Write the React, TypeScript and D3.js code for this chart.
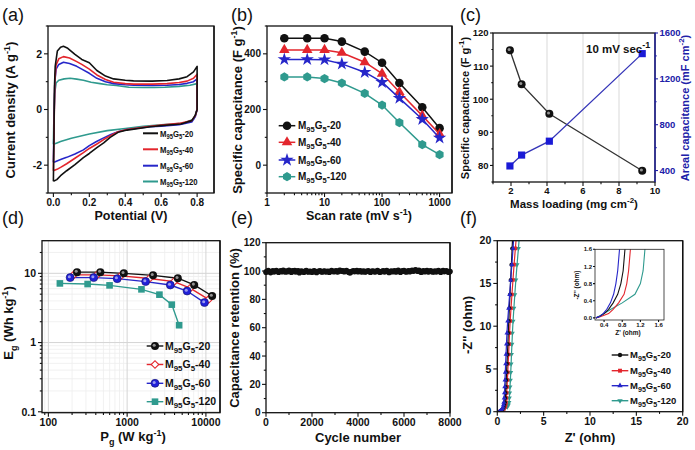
import React from 'react';
import * as d3 from 'd3';

const FONT = "'Liberation Sans', Arial, Helvetica, sans-serif";
const BLACK = '#111111';
const RED = '#e3262d';
const BLUE = '#2626c9';
const TEAL = '#2f9a8e';
const NAVY = '#2020a8';

// ---------------- (a) CV curves: [potential V, current A/g] ----------------
const cv20: [number, number][] = [[0,-2.58],[0.003,-1.0],[0.006,0.8],[0.01,1.55],[0.022,2.1],[0.04,2.24],[0.056,2.27],[0.08,2.2],[0.12,1.98],[0.158,1.8],[0.2,1.68],[0.242,1.4],[0.29,1.2],[0.335,1.1],[0.4,1.05],[0.446,1.03],[0.55,1.02],[0.633,1.04],[0.7,1.1],[0.744,1.18],[0.78,1.35],[0.8,1.55],[0.8,0.0],[0.79,-0.2],[0.77,-0.4],[0.71,-0.52],[0.6,-0.58],[0.54,-0.62],[0.41,-0.74],[0.36,-0.82],[0.316,-1.0],[0.28,-1.2],[0.242,-1.37],[0.2,-1.58],[0.167,-1.73],[0.12,-1.98],[0.074,-2.2],[0.04,-2.38],[0.019,-2.52],[0,-2.58]];
const cv40: [number, number][] = [[0,-2.2],[0.004,-0.5],[0.008,1.0],[0.015,1.6],[0.03,1.82],[0.056,1.9],[0.09,1.85],[0.13,1.72],[0.158,1.62],[0.2,1.45],[0.242,1.24],[0.29,1.08],[0.335,0.98],[0.4,0.93],[0.446,0.91],[0.55,0.91],[0.633,0.93],[0.7,0.97],[0.744,1.02],[0.78,1.12],[0.8,1.27],[0.8,0.0],[0.79,-0.22],[0.77,-0.4],[0.7,-0.5],[0.6,-0.56],[0.54,-0.6],[0.41,-0.72],[0.36,-0.8],[0.32,-0.93],[0.28,-1.08],[0.24,-1.25],[0.2,-1.4],[0.167,-1.55],[0.12,-1.75],[0.074,-1.95],[0.04,-2.08],[0.02,-2.15],[0,-2.2]];
const cv60: [number, number][] = [[0,-1.9],[0.004,-0.3],[0.008,1.0],[0.015,1.45],[0.03,1.62],[0.056,1.7],[0.09,1.65],[0.13,1.55],[0.158,1.45],[0.2,1.3],[0.242,1.12],[0.29,1.0],[0.335,0.93],[0.4,0.89],[0.446,0.87],[0.55,0.86],[0.633,0.87],[0.7,0.9],[0.744,0.94],[0.78,1.0],[0.8,1.1],[0.8,0.0],[0.79,-0.25],[0.77,-0.45],[0.7,-0.55],[0.6,-0.6],[0.54,-0.62],[0.41,-0.72],[0.36,-0.8],[0.32,-0.9],[0.28,-1.02],[0.24,-1.15],[0.2,-1.3],[0.167,-1.45],[0.12,-1.6],[0.074,-1.72],[0.04,-1.8],[0.02,-1.85],[0,-1.9]];
const cv120: [number, number][] = [[0,-1.25],[0.003,-0.2],[0.007,0.57],[0.015,0.95],[0.03,1.05],[0.06,1.1],[0.093,1.12],[0.13,1.09],[0.167,1.05],[0.21,0.98],[0.26,0.93],[0.3,0.89],[0.35,0.86],[0.42,0.8],[0.5,0.79],[0.56,0.79],[0.62,0.8],[0.7,0.83],[0.76,0.87],[0.8,0.93],[0.8,0.0],[0.79,-0.2],[0.78,-0.35],[0.72,-0.5],[0.6,-0.55],[0.5,-0.6],[0.4,-0.68],[0.3,-0.76],[0.2,-0.88],[0.1,-1.03],[0.04,-1.15],[0.02,-1.2],[0,-1.25]];

const seriesSuffix = ['20', '40', '60', '120'];
const seriesColors = [BLACK, RED, BLUE, TEAL];

// ---------------- (b) specific capacitance vs scan rate ----------------
const scanRates = [2, 5, 10, 20, 50, 100, 200, 500, 1000];
const capB20 = [456, 456, 456, 444, 408, 368, 295, 208, 133];
const capB40 = [414, 414, 414, 404, 370, 329, 263, 178, 112];
const capB60 = [380, 380, 379, 364, 334, 298, 241, 165, 98];
const capB120 = [317, 317, 311, 295, 258, 216, 153, 74, 38];

// ---------------- (c) mass loading ----------------
const massLoading = [1.94, 2.59, 4.13, 9.29];
const specificCap = [114.8, 104.5, 95.6, 78.4];
const arealCap = [440, 535, 656, 1420];

// ---------------- (d) Ragone ----------------
const d20P = [231, 457, 908, 2133, 4400, 7100, 12000];
const d20E = [10.4, 10.4, 10.0, 9.35, 8.5, 6.8, 4.7];
const d40P = [210, 415, 830, 1920, 3950, 6300, 10800];
const d40E = [9.5, 9.5, 9.2, 8.4, 7.6, 6.1, 4.2];
const d60P = [189, 376, 748, 1718, 3530, 5770, 9600];
const d60E = [8.67, 8.67, 8.38, 7.59, 6.78, 5.55, 3.78];
const d120P = [140, 315, 598, 1520, 2570, 3690, 4570];
const d120E = [7.15, 7.0, 6.7, 5.87, 4.92, 3.53, 1.78];

// ---------------- (e) cycling retention (every 50 cycles) ----------------
const retention = [99.2, 99.8, 100.3, 99.5, 98.9, 99.6, 100.1, 99.4, 99.9, 100.4, 99.7, 99.1, 99.8, 100.2, 99.5, 100.6, 99.9, 99.3, 100.0, 99.6, 100.5, 99.8, 99.2, 100.1, 99.7, 100.3, 99.4, 99.9, 100.2, 98.8, 99.6, 100.0, 99.5, 99.1, 99.8, 100.4, 99.6, 99.3, 99.9, 99.7, 99.2, 99.8, 100.1, 99.4, 99.0, 99.7, 99.9, 100.2, 99.5, 99.3, 99.8, 100.0, 99.4, 99.7, 99.9, 99.2, 99.6, 100.3, 99.8, 99.5, 99.9, 100.2, 99.4, 99.7, 100.6, 100.3, 99.8, 100.1, 99.5, 99.9, 100.4, 99.7, 99.2, 98.7, 99.4, 99.8, 100.2, 99.6, 99.9, 100.3, 99.5, 99.8, 100.1, 99.4, 99.7, 100.0, 99.3, 99.6, 99.9, 100.2, 99.5, 99.1, 99.8, 100.0, 99.6, 99.4, 99.9, 100.3, 99.7, 99.2, 99.5, 99.8, 100.1, 99.4, 99.9, 100.4, 99.6, 99.0, 99.7, 100.0, 99.5, 99.8, 100.2, 99.3, 99.9, 100.5, 99.6, 99.1, 99.8, 100.1, 100.4, 99.7, 99.3, 99.9, 100.2, 99.5, 100.0, 100.6, 99.8, 100.3, 100.8, 100.4, 99.9, 100.5, 99.6, 99.2, 99.8, 100.1, 99.5, 99.9, 100.3, 99.4, 99.7, 100.2, 99.8, 99.3, 99.6, 100.0, 99.4, 99.9, 100.4, 99.7, 99.1, 99.8, 100.3, 99.6, 99.9, 100.1, 99.5, 99.2, 99.7];
const maxCycle = 8000;

// ---------------- (f) Nyquist ----------------
const zIm = [0, 0.03, 0.1, 0.2, 0.35, 0.55, 0.8, 1.1, 1.6, 2.2, 2.9, 3.7, 4.6, 5.6, 6.7, 7.9, 9.2, 10.6, 12.1, 13.7, 15.4, 17.2, 19.1, 21];
const zRe20 = [0.22, 0.3, 0.4, 0.5, 0.6, 0.7, 0.77, 0.82, 0.86, 0.89, 0.92, 0.96, 1.0, 1.04, 1.09, 1.14, 1.18, 1.24, 1.3, 1.37, 1.44, 1.52, 1.6, 1.68];
const zRe40 = [0.22, 0.33, 0.5, 0.6, 0.72, 0.84, 0.9, 0.94, 0.98, 1.01, 1.05, 1.09, 1.13, 1.17, 1.22, 1.27, 1.32, 1.39, 1.48, 1.58, 1.69, 1.81, 1.95, 2.1];
const zRe60 = [0.22, 0.3, 0.38, 0.46, 0.54, 0.61, 0.66, 0.7, 0.74, 0.77, 0.8, 0.83, 0.86, 0.9, 0.94, 0.99, 1.04, 1.12, 1.22, 1.33, 1.45, 1.57, 1.7, 1.8];
const zRe120 = [0.22, 0.28, 0.4, 0.55, 0.8, 1.08, 1.2, 1.26, 1.3, 1.33, 1.37, 1.41, 1.45, 1.49, 1.53, 1.58, 1.63, 1.7, 1.79, 1.89, 2.0, 2.13, 2.28, 2.42];

// ---------------- helpers ----------------
const symbolHex = {
  draw(ctx: any, size: number) {
    const r = Math.sqrt(size / 2.598);
    for (let i = 0; i < 6; i++) {
      const a = (Math.PI / 3) * i + Math.PI / 6;
      const px = r * Math.cos(a), py = r * Math.sin(a);
      if (i) ctx.lineTo(px, py); else ctx.moveTo(px, py);
    }
    ctx.closePath();
  },
};

function Marker({ kind, x, y, s, fill, stroke = 'none', sw = 1 }: any) {
  if (kind === 'circle') return <circle cx={x} cy={y} r={s} fill={fill} stroke={stroke} strokeWidth={sw} />;
  if (kind === 'ball') return (
    <g>
      <circle cx={x} cy={y} r={s} fill={fill} stroke={stroke} strokeWidth={sw} />
      <circle cx={x - s * 0.2} cy={y - s * 0.2} r={s * 0.38} fill="#ffffff" opacity={0.55} />
    </g>
  );
  let type: any = d3.symbolCircle, area = s * s * 3.2, rot = 0;
  if (kind === 'tri') { type = d3.symbolTriangle; area = s * s * 2.6; }
  if (kind === 'tridown') { type = d3.symbolTriangle; area = s * s * 2.6; rot = 180; }
  if (kind === 'star') { type = d3.symbolStar; area = s * s * 2.4; }
  if (kind === 'hex') { type = symbolHex; area = s * s * 3.0; }
  if (kind === 'square') { type = d3.symbolSquare; area = s * s * 3.2; }
  if (kind === 'diamond') { type = d3.symbolSquare; area = s * s * 2.2; rot = 45; }
  const p = d3.symbol(type, area)() as string;
  return <path d={p} transform={`translate(${x},${y}) rotate(${rot})`} fill={fill} stroke={stroke} strokeWidth={sw} />;
}

function Axis({ orient, scale, pos, major, minor = [], fmt = (v: number) => String(v), size = 10.5, color = '#111', len = 4, off = 2 }: any) {
  const els: any[] = [];
  const mk = (v: number, i: number, isMajor: boolean) => {
    const p = scale(v);
    const l = isMajor ? len : len * 0.55;
    if (orient === 'bottom') {
      els.push(<line key={(isMajor ? 'M' : 'm') + i} x1={p} x2={p} y1={pos} y2={pos + l} stroke={color} strokeWidth={1.1} />);
      if (isMajor) els.push(<text key={'L' + i} x={p} y={pos + len + off + size * 0.75} textAnchor="middle" fontSize={size} fontWeight="bold" fontFamily={FONT} fill={color}>{fmt(v)}</text>);
    } else if (orient === 'left') {
      els.push(<line key={(isMajor ? 'M' : 'm') + i} x1={pos} x2={pos - l} y1={p} y2={p} stroke={color} strokeWidth={1.1} />);
      if (isMajor) els.push(<text key={'L' + i} x={pos - len - off} y={p + size * 0.36} textAnchor="end" fontSize={size} fontWeight="bold" fontFamily={FONT} fill={color}>{fmt(v)}</text>);
    } else {
      els.push(<line key={(isMajor ? 'M' : 'm') + i} x1={pos} x2={pos + l} y1={p} y2={p} stroke={color} strokeWidth={1.1} />);
      if (isMajor) els.push(<text key={'L' + i} x={pos + len + off} y={p + size * 0.36} textAnchor="start" fontSize={size} fontWeight="bold" fontFamily={FONT} fill={color}>{fmt(v)}</text>);
    }
  };
  major.forEach((v: number, i: number) => mk(v, i, true));
  minor.forEach((v: number, i: number) => mk(v, i, false));
  return <g>{els}</g>;
}

function Frame({ x0, x1, y0, y1, right = '#111' }: any) {
  return (
    <g>
      <rect x={x0} y={y0} width={x1 - x0} height={y1 - y0} fill="none" stroke="#111" strokeWidth={1.3} />
      <line x1={x1} x2={x1} y1={y0} y2={y1} stroke={right} strokeWidth={1.3} />
    </g>
  );
}

function Title({ x, y, rotate = 0, size = 13, fill = '#111', children }: any) {
  return (
    <text x={x} y={y} fontSize={size} fontWeight="bold" fontFamily={FONT} fill={fill} textAnchor="middle"
      transform={rotate ? `rotate(${rotate},${x},${y})` : undefined}>{children}</text>
  );
}

function PanelLabel({ x, y, t }: any) {
  return <text x={x} y={y} fontSize={18} fontFamily={FONT} fill="#111">{t}</text>;
}

function MG({ x, y, suffix, size = 9.5, sx = 1 }: any) {
  const s = size * 0.75;
  const d = size * 0.28;
  return (
    <g transform={`translate(${x},${y}) scale(${sx},1)`}>
      <text x={0} y={0} fontSize={size} fontWeight="bold" fontFamily={FONT} fill="#111">
        M<tspan fontSize={s} dy={d}>95</tspan><tspan dy={-d}>G</tspan><tspan fontSize={s} dy={d}>5</tspan><tspan dy={-d}>-{suffix}</tspan>
      </text>
    </g>
  );
}

function Sup({ children, size = 9, up = 5 }: any) {
  return <tspan fontSize={size} baselineShift={`${up}px`}>{children}</tspan>;
}
function Sub({ children, size = 9, down = 4 }: any) {
  return <tspan fontSize={size} baselineShift={`${-down}px`}>{children}</tspan>;
}

const logMinor = (lo: number, hi: number) => {
  const out: number[] = [];
  for (let e = -3; e <= 6; e++) for (let k = 2; k <= 9; k++) { const v = k * Math.pow(10, e); if (v > lo && v < hi) out.push(v); }
  return out;
};

export default function App() {
  // ---- scales ----
  const xA = d3.scaleLinear().domain([-0.03, 0.894]).range([48, 214]);
  const yA = d3.scaleLinear().domain([-3, 3]).range([193, 26]);

  const xB = d3.scaleLog().domain([1, 1644]).range([267, 452]);
  const yB = d3.scaleLinear().domain([-100, 500]).range([193, 26]);

  const xC = d3.scaleLinear().domain([1, 10]).range([493, 655]);
  const yCL = d3.scaleLinear().domain([75, 120]).range([182, 33]);
  const yCR = d3.scaleLinear().domain([300, 1600]).range([182, 33]);

  const xD = d3.scaleLog().domain([83, 15100]).range([42, 220]);
  const yD = d3.scaleLog().domain([0.097, 29.6]).range([412.7, 240.7]);

  const xE = d3.scaleLinear().domain([0, maxCycle]).range([266, 450]);
  const yE = d3.scaleLinear().domain([0, 120]).range([412.7, 242.7]);

  const xF = d3.scaleLinear().domain([0, 20]).range([497.3, 682.7]);
  const yF = d3.scaleLinear().domain([0, 20]).range([411.7, 240.7]);
  const xI = d3.scaleLinear().domain([0.2, 1.72]).range([595, 664]);
  const yI = d3.scaleLinear().domain([-0.05, 1.6]).range([320, 249.3]);

  const lineA = d3.line<[number, number]>().x(d => xA(d[0])).y(d => yA(d[1]));
  const cvs = [cv20, cv40, cv60, cv120];

  const bSeries = [capB20, capB40, capB60, capB120];
  const bKinds = ['circle', 'tri', 'star', 'hex'];
  const lineB = d3.line<number>().x((_, i) => xB(scanRates[i])).y(d => yB(d));

  const dP = [d20P, d40P, d60P, d120P];
  const dE = [d20E, d40E, d60E, d120E];

  const fRe = [zRe20, zRe40, zRe60, zRe120];
  const fKinds = ['circle', 'square', 'tri', 'tridown'];
  const lineF = d3.line<number>().x(d => xF(d)).y((_, i) => yF(zIm[i]));
  const lineI = d3.line<number>().x(d => xI(d)).y((_, i) => yI(zIm[i]));

  const lineCL = d3.line<number>().x((_, i) => xC(massLoading[i])).y(d => yCL(d));
  const lineCR = d3.line<number>().x((_, i) => xC(massLoading[i])).y(d => yCR(d));

  const dGridMajorX = [100, 1000, 10000];
  const dGridMajorY = [0.1, 1, 10];

  return (
    <svg width={695} height={450} style={{ position: 'absolute', left: 0, top: 0, background: '#fff' }} fontFamily={FONT}>
      <rect x={0} y={0} width={695} height={450} fill="#fff" />
      <defs>
        <clipPath id="clipF"><rect x={497.3} y={240.7} width={185.4} height={171} /></clipPath>
        <clipPath id="clipI"><rect x={595} y={249.3} width={69} height={70.7} /></clipPath>
      </defs>

      {/* ================= (a) ================= */}
      <PanelLabel x={2} y={21} t="(a)" />
      {[3, 2, 1, 0].map(k => (
        <path key={'cv' + k} d={lineA(cvs[k]) as string} fill="none" stroke={seriesColors[k]} strokeWidth={1.6} strokeLinejoin="round" />
      ))}
      <Frame x0={48} x1={214} y0={26} y1={193} />
      <Axis orient="bottom" scale={xA} pos={193} major={[0, 0.2, 0.4, 0.6, 0.8]} minor={[0.1, 0.3, 0.5, 0.7]} fmt={(v: number) => v.toFixed(1)} size={10} off={1} />
      <Axis orient="left" scale={yA} pos={48} major={[-2, 0, 2]} minor={[-3, -1, 1, 3]} />
      <Title x={131} y={220} size={12.5}>Potential (V)</Title>
      <Title x={15} y={110} rotate={-90}>Current density (A g<Sup>-1</Sup>)</Title>
      {seriesSuffix.map((s, k) => {
        const yy = [133.3, 149.3, 165.7, 181.5][k];
        return (
          <g key={'la' + k}>
            <line x1={143} x2={158} y1={yy} y2={yy} stroke={seriesColors[k]} strokeWidth={2} />
            <MG x={160} y={yy + 3.3} suffix={s} size={9} sx={0.86} />
          </g>
        );
      })}

      {/* ================= (b) ================= */}
      <PanelLabel x={231} y={21} t="(b)" />
      {bSeries.map((ser, k) => (
        <g key={'b' + k}>
          <path d={lineB(ser) as string} fill="none" stroke={seriesColors[k]} strokeWidth={1.5} />
          {ser.map((v, i) => <Marker key={i} kind={bKinds[k]} x={xB(scanRates[i])} y={yB(v)} s={k === 2 ? 4.8 : 4.3} fill={seriesColors[k]} />)}
        </g>
      ))}
      <Frame x0={267} x1={452} y0={26} y1={193} />
      <Axis orient="bottom" scale={xB} pos={193} major={[1, 10, 100, 1000]} minor={logMinor(1, 1644)} size={10} off={1} />
      <Axis orient="left" scale={yB} pos={267} major={[0, 200, 400]} minor={[-100, 100, 300, 500]} size={10} />
      <Title x={359} y={220} size={12.5}>Scan rate (mV s<Sup>-1</Sup>)</Title>
      <Title x={242} y={110} rotate={-90}>Specific capacitance (F g<Sup>-1</Sup>)</Title>
      {seriesSuffix.map((s, k) => {
        const yy = [125.7, 142.3, 160, 176.7][k];
        return (
          <g key={'lb' + k}>
            <line x1={278.7} x2={295.3} y1={yy} y2={yy} stroke={seriesColors[k]} strokeWidth={1.5} />
            <Marker kind={bKinds[k]} x={287} y={yy} s={k === 2 ? 4.8 : 4.3} fill={seriesColors[k]} />
            <MG x={298} y={yy + 3.5} suffix={s} size={10} />
          </g>
        );
      })}

      {/* ================= (c) ================= */}
      <PanelLabel x={460} y={21} t="(c)" />
      {[4, 6, 8].map(v => <line key={'gc' + v} x1={xC(v)} x2={xC(v)} y1={33} y2={182} stroke="#d9d9d9" strokeWidth={1} />)}
      <path d={lineCL(specificCap) as string} fill="none" stroke="#333" strokeWidth={1.3} />
      <path d={lineCR(arealCap) as string} fill="none" stroke="#3535b8" strokeWidth={1.3} />
      {specificCap.map((v, i) => <Marker key={'cl' + i} kind="ball" x={xC(massLoading[i])} y={yCL(v)} s={4} fill="#111" />)}
      {arealCap.map((v, i) => <Marker key={'cr' + i} kind="square" x={xC(massLoading[i])} y={yCR(v)} s={4} fill="#1a1ad6" />)}
      <Frame x0={493} x1={655} y0={33} y1={182} right={NAVY} />
      <Axis orient="bottom" scale={xC} pos={182} major={[2, 4, 6, 8, 10]} minor={[1, 3, 5, 7, 9]} size={9.5} off={1} />
      <Axis orient="left" scale={yCL} pos={493} major={[80, 90, 100, 110, 120]} minor={[75, 85, 95, 105, 115]} size={9.5} len={3} off={1.5} />
      <Axis orient="right" scale={yCR} pos={655} major={[400, 800, 1200, 1600]} minor={[600, 1000, 1400]} color={NAVY} size={9.5} len={3} off={1.5} />
      <Title x={574} y={208} size={11.5}>Mass loading (mg cm<Sup size={8}>-2</Sup>)</Title>
      <Title x={469} y={108} rotate={-90} size={11}>Specific capacitance (F g<Sup size={8}>-1</Sup>)</Title>
      <Title x={689} y={108} rotate={-90} size={11} fill={NAVY}>Areal capacitance (mF cm<Sup size={8}>-2</Sup>)</Title>
      <text x={586} y={53} fontSize={11.5} fontWeight="bold" fontFamily={FONT} fill="#111">10 mV sec<Sup size={9}>-1</Sup></text>

      {/* ================= (d) ================= */}
      <PanelLabel x={2} y={224} t="(d)" />
      {logMinor(83, 15100).map((v, i) => <line key={'gdx' + i} x1={xD(v)} x2={xD(v)} y1={240.7} y2={412.7} stroke="#eeeeee" strokeWidth={0.8} />)}
      {logMinor(0.097, 29.6).map((v, i) => <line key={'gdy' + i} x1={42} x2={220} y1={yD(v)} y2={yD(v)} stroke="#eeeeee" strokeWidth={0.8} />)}
      {dGridMajorX.map((v, i) => <line key={'gDX' + i} x1={xD(v)} x2={xD(v)} y1={240.7} y2={412.7} stroke="#d4d4d4" strokeWidth={1} />)}
      {dGridMajorY.map((v, i) => <line key={'gDY' + i} x1={42} x2={220} y1={yD(v)} y2={yD(v)} stroke="#d4d4d4" strokeWidth={1} />)}
      {[0, 1, 2, 3].map(k => {
        const line = d3.line<number>().x(d => xD(d)).y((_, i) => yD(dE[k][i]));
        return <path key={'dl' + k} d={line(dP[k]) as string} fill="none" stroke={seriesColors[k]} strokeWidth={1.4} />;
      })}
      {[3, 1, 2, 0].map(k => (
        <g key={'dm' + k}>
          {dP[k].map((p, i) => {
            const x = xD(p), y = yD(dE[k][i]);
            if (k === 0) return <Marker key={i} kind="ball" x={x} y={y} s={4} fill="#111" />;
            if (k === 1) return <Marker key={i} kind="diamond" x={x} y={y} s={3.6} fill="#fff" stroke={RED} sw={1.1} />;
            if (k === 2) return <Marker key={i} kind="ball" x={x} y={y} s={4} fill="#2020d8" stroke="#10106a" sw={0.6} />;
            return <Marker key={i} kind="square" x={x} y={y} s={3.7} fill={TEAL} />;
          })}
        </g>
      ))}
      <Frame x0={42} x1={220} y0={240.7} y1={412.7} />
      <Axis orient="bottom" scale={xD} pos={412.7} major={[100, 1000, 10000]} minor={logMinor(83, 15100)} size={10.5} off={1} />
      <Axis orient="left" scale={yD} pos={42} major={[0.1, 1, 10]} minor={logMinor(0.097, 29.6)} size={10.5} />
      <Title x={133} y={441}>P<Sub>g</Sub> (W kg<Sup>-1</Sup>)</Title>
      <Title x={13} y={323} rotate={-90}>E<Sub>g</Sub> (Wh kg<Sup>-1</Sup>)</Title>
      {seriesSuffix.map((s, k) => {
        const yy = [346, 364.5, 383.3, 401.7][k];
        return (
          <g key={'ld' + k}>
            <line x1={146.7} x2={163.3} y1={yy} y2={yy} stroke={seriesColors[k]} strokeWidth={1.4} />
            {k === 0 && <Marker kind="ball" x={155} y={yy} s={4} fill="#111" />}
            {k === 1 && <Marker kind="diamond" x={155} y={yy} s={3.6} fill="#fff" stroke={RED} sw={1.1} />}
            {k === 2 && <Marker kind="ball" x={155} y={yy} s={4} fill="#2020d8" stroke="#10106a" sw={0.6} />}
            {k === 3 && <Marker kind="square" x={155} y={yy} s={3.7} fill={TEAL} />}
            <MG x={165} y={yy + 3.7} suffix={s} size={10.5} />
          </g>
        );
      })}

      {/* ================= (e) ================= */}
      <PanelLabel x={231} y={224} t="(e)" />
      {retention.map((v, i) => (
        <circle key={'e' + i} cx={xE((i * maxCycle) / (retention.length - 1))} cy={yE(v)} r={2.8} fill="#111" />
      ))}
      <Frame x0={266} x1={450} y0={242.7} y1={412.7} />
      <Axis orient="bottom" scale={xE} pos={412.7} major={[0, 2000, 4000, 6000, 8000]} minor={[1000, 3000, 5000, 7000]} size={10.5} off={1.5} />
      <Axis orient="left" scale={yE} pos={266} major={[0, 20, 40, 60, 80, 100, 120]} minor={[10, 30, 50, 70, 90, 110]} size={10} off={1.5} />
      <Title x={358} y={442}>Cycle number</Title>
      <Title x={239} y={328} rotate={-90}>Capacitance retention (%)</Title>

      {/* ================= (f) ================= */}
      <PanelLabel x={460} y={224} t="(f)" />
      <g clipPath="url(#clipF)">
        {[3, 1, 0, 2].map(k => (
          <g key={'f' + k}>
            <path d={lineF(fRe[k]) as string} fill="none" stroke={seriesColors[k]} strokeWidth={1.2} />
            {fRe[k].map((v, i) => <Marker key={i} kind={fKinds[k]} x={xF(v)} y={yF(zIm[i])} s={2} fill={seriesColors[k]} />)}
          </g>
        ))}
      </g>
      <Frame x0={497.3} x1={682.7} y0={240.7} y1={411.7} />
      <Axis orient="bottom" scale={xF} pos={411.7} major={[0, 5, 10, 15, 20]} minor={[2.5, 7.5, 12.5, 17.5]} size={10.5} off={1.5} />
      <Axis orient="left" scale={yF} pos={497.3} major={[0, 5, 10, 15, 20]} minor={[2.5, 7.5, 12.5, 17.5]} size={10.5} />
      <Title x={590} y={442}>Z' (ohm)</Title>
      <Title x={472} y={325} rotate={-90}>-Z'' (ohm)</Title>

      {/* inset */}
      <rect x={595} y={249.3} width={69} height={70.7} fill="#fff" />
      <g clipPath="url(#clipI)">
        {[3, 1, 0, 2].map(k => (
          <path key={'fi' + k} d={lineI(fRe[k]) as string} fill="none" stroke={seriesColors[k]} strokeWidth={1.1} />
        ))}
      </g>
      <rect x={595} y={249.3} width={69} height={70.7} fill="none" stroke="#222" strokeWidth={0.8} />
      <Axis orient="bottom" scale={xI} pos={320} major={[0.4, 0.8, 1.2, 1.6]} fmt={(v: number) => v.toFixed(1)} size={6} len={2} off={0.5} />
      <Axis orient="left" scale={yI} pos={595} major={[0, 0.4, 0.8, 1.2, 1.6]} fmt={(v: number) => v.toFixed(1)} size={6} len={2} off={1} />
      <Title x={628} y={335} size={6.5}>Z' (ohm)</Title>
      <Title x={579} y={285} rotate={-90} size={6.5}>-Z'' (ohm)</Title>

      {seriesSuffix.map((s, k) => {
        const yy = [355, 370.7, 385.7, 400.7][k];
        return (
          <g key={'lf' + k}>
            <line x1={611.7} x2={628.3} y1={yy} y2={yy} stroke={seriesColors[k]} strokeWidth={1.4} />
            <Marker kind={fKinds[k]} x={620} y={yy} s={2.2} fill={seriesColors[k]} />
            <MG x={630} y={yy + 3.4} suffix={s} size={9.5} />
          </g>
        );
      })}
    </svg>
  );
}
